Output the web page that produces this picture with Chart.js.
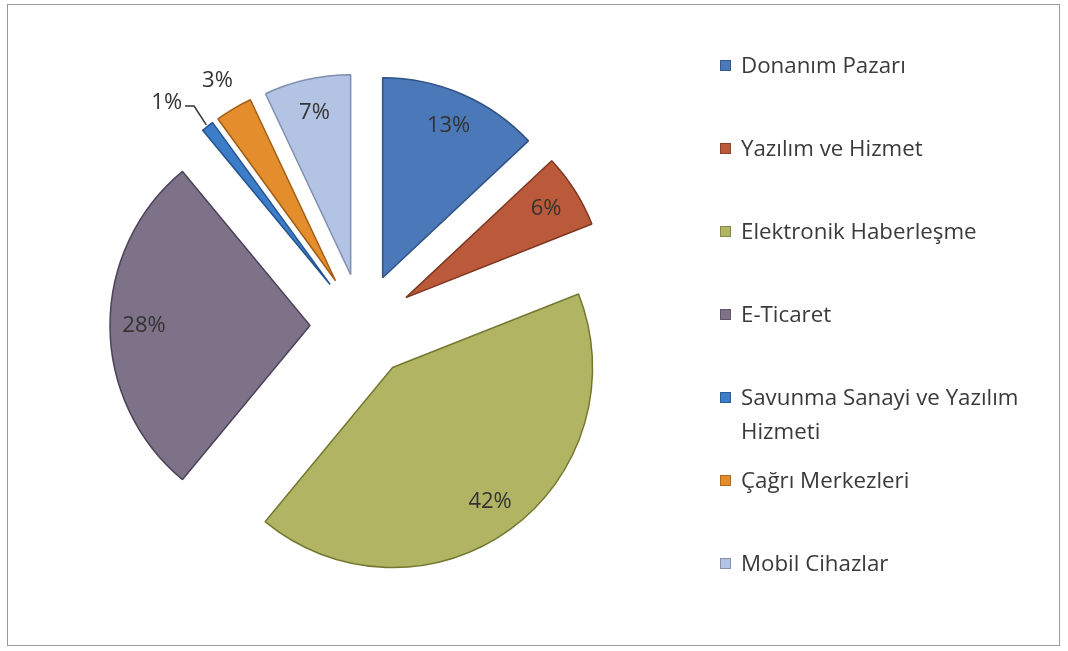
<!DOCTYPE html>
<html>
<head>
<meta charset="utf-8">
<script src="https://cdn.jsdelivr.net/npm/chart.js@4"></script>
<style>
  html, body { margin: 0; padding: 0; background: #fff; }
  #wrap { position: relative; width: 1068px; height: 651px; overflow: hidden; }
  #wrap canvas { position: absolute; left: 0; top: 0; }
  #frame { position: absolute; left: 7px; top: 4px; width: 1053px; height: 642px;
           border: 1.5px solid #9a9a9a; box-sizing: border-box; }
  #legend { position: absolute; left: 720px; top: 48px; width: 335px;
            font-family: "Open Sans", "DejaVu Sans", sans-serif; font-size: 22.3px; color: #3a3a3a; }
  .item { display: flex; align-items: flex-start; line-height: 34px; height: 83px; }
  .box { width: 11px; height: 11px; margin-top: 12px; margin-right: 10px; flex: none;
         box-sizing: border-box; border: 1px solid rgba(0,0,0,0.25); }
  .txt { width: 305px; }
</style>
</head>
<body>
<div id="wrap">
  <canvas id="pie" width="1068" height="651"></canvas>
  <div id="frame"></div>
  <div id="legend"></div>
</div>
<script>
// categories and their shares (%)
const labels = ['Donanım Pazarı', 'Yazılım ve Hizmet', 'Elektronik Haberleşme', 'E-Ticaret',
                'Savunma Sanayi ve Yazılım Hizmeti', 'Çağrı Merkezleri', 'Mobil Cihazlar'];
const shares = [13, 6, 42, 28, 1, 3, 7];

const colors  = ['#4a78b8', '#bb5a3a', '#b1b563', '#7e7289', '#3d7cc6', '#e38d2c', '#b3c3e3'];
const borders = ['#2f5283', '#7e3621', '#74772f', '#4d4359', '#24548f', '#a35d14', '#7f8fad'];

const EXPLODE = 52;   // how far every slice is pulled out (px)
const RADIUS = 200;

/* Pull every slice out along its bisector (Excel style explode, no shrinking of thin slices) */
const explode = {
    id: 'explode',
    afterDatasetUpdate(chart, args) {
        chart.getDatasetMeta(args.index).data.forEach(arc => {
            const mid = (arc.startAngle + arc.endAngle) / 2;
            arc.x += Math.cos(mid) * EXPLODE;
            arc.y += Math.sin(mid) * EXPLODE;
        });
    }
};

/* Percent labels, inside for big slices, outside for small ones */
const pctLabels = {
    id: 'pctLabels',
    afterDatasetsDraw(chart) {
        const ctx = chart.ctx;
        const meta = chart.getDatasetMeta(0);
        ctx.save();
        ctx.font = '22px "Open Sans", "DejaVu Sans", sans-serif';
        ctx.fillStyle = '#333';
        ctx.textBaseline = 'middle';
        meta.data.forEach((arc, i) => {
            const p = arc.getProps(['x', 'y', 'startAngle', 'endAngle', 'outerRadius'], true);
            const mid = (p.startAngle + p.endAngle) / 2;
            const cx = p.x, cy = p.y;
            const r = p.outerRadius;
            const txt = shares[i] + '%';
            if (shares[i] >= 5) {
                ctx.textAlign = 'center';
                ctx.fillText(txt, cx + Math.cos(mid) * r * 0.83, cy + Math.sin(mid) * r * 0.83);
            } else if (shares[i] >= 2) {
                ctx.textAlign = 'center';
                ctx.fillText(txt, cx + Math.cos(mid) * r * 1.16, cy + Math.sin(mid) * r * 1.16);
            } else {
                // leader line
                const x0 = cx + Math.cos(mid) * (r + 2), y0 = cy + Math.sin(mid) * (r + 2);
                const x1 = cx + Math.cos(mid) * r * 1.11, y1 = cy + Math.sin(mid) * r * 1.11 - 3;
                const x2 = x1 - 9;
                ctx.strokeStyle = '#333';
                ctx.lineWidth = 1.5;
                ctx.beginPath();
                ctx.moveTo(x0, y0);
                ctx.lineTo(x1, y1);
                ctx.lineTo(x2, y1);
                ctx.stroke();
                ctx.textAlign = 'right';
                ctx.fillText(txt, x2 - 3, y1 - 3);
            }
        });
        ctx.restore();
    }
};

const chart = new Chart(document.getElementById('pie').getContext('2d'), {
    type: 'pie',
    data: {
        labels: labels,
        datasets: [{
            data: shares,
            backgroundColor: colors,
            borderColor: borders,
            borderWidth: 1.5,
            radius: RADIUS
        }]
    },
    options: {
        responsive: false,
        animation: false,
        events: [],
        layout: { padding: { left: 0, right: 344, top: 0, bottom: 0 } },
        plugins: {
            legend: { display: false },
            tooltip: { enabled: false }
        }
    },
    plugins: [explode, pctLabels]
});

// HTML legend so the long label can wrap
const legendEl = document.getElementById('legend');
labels.forEach((name, i) => {
    const item = document.createElement('div');
    item.className = 'item';
    item.innerHTML = '<span class="box" style="background:' + colors[i] + '"></span><span class="txt">' + name + '</span>';
    legendEl.appendChild(item);
});
</script>
</body>
</html>
